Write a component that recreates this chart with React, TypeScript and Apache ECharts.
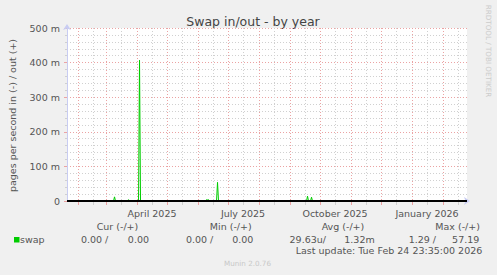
import React, { useEffect, useRef } from 'react';
import * as echarts from 'echarts';

const FONT = '"DejaVu Sans", sans-serif';

// time range of the yearly graph
const rangeStart = '2025-01-20 23:35';
const rangeEnd = '2026-02-24 23:35';

// swap out (+) in milli pages per second
const swapOutTimes = [
  '2025-01-20 23:35',
  '2025-03-08 12:00', '2025-03-09 12:00', '2025-03-10 12:00',
  '2025-03-22 12:00', '2025-03-23 12:00', '2025-03-24 12:00',
  '2025-04-02 12:00', '2025-04-03 12:00', '2025-04-04 12:00',
  '2025-06-08 12:00', '2025-06-09 12:00', '2025-06-10 12:00', '2025-06-11 12:00', '2025-06-12 12:00',
  '2025-06-19 12:00', '2025-06-20 12:00', '2025-06-21 12:00',
  '2025-09-17 12:00', '2025-09-18 12:00', '2025-09-19 12:00',
  '2025-09-21 12:00', '2025-09-22 12:00', '2025-09-23 12:00',
  '2026-02-24 23:35',
];
const swapOutValues = [
  0,
  0, 12, 0,
  0, 4, 0,
  0, 407, 0,
  0, 4, 3, 4, 0,
  0, 54, 0,
  0, 14, 0,
  0, 11, 0,
  0,
];

const monthStarts = [
  '2025-02-01 00:00', '2025-03-01 00:00', '2025-04-01 00:00', '2025-05-01 00:00',
  '2025-06-01 00:00', '2025-07-01 00:00', '2025-08-01 00:00', '2025-09-01 00:00',
  '2025-10-01 00:00', '2025-11-01 00:00', '2025-12-01 00:00', '2026-01-01 00:00',
  '2026-02-01 00:00',
];
const midMonths = [
  '2025-02-15 12:00', '2025-03-15 12:00', '2025-04-15 12:00', '2025-05-15 12:00',
  '2025-06-15 12:00', '2025-07-15 12:00', '2025-08-15 12:00', '2025-09-15 12:00',
  '2025-10-15 12:00', '2025-11-15 12:00', '2025-12-15 12:00', '2026-01-15 12:00',
  '2026-02-15 12:00',
];
const xLabelDates = ['2025-04-16 00:00', '2025-07-16 00:00', '2025-10-16 00:00', '2026-01-16 00:00'];
const xLabelTexts = ['April 2025', 'July 2025', 'October 2025', 'January 2026'];

const yMin = 0;
const yMax = 500;
const yInterval = 100;

const title = 'Swap in/out - by year';
const yAxisName = 'pages per second in (-) / out (+)';
const legendName = 'swap';
const legendHeaders = ['Cur (-/+)', 'Min (-/+)', 'Avg (-/+)', 'Max (-/+)'];
const legendValues = ['0.00 /', '0.00', '0.00 /', '0.00', '29.63u/', '1.32m', '1.29 /', '57.19'];
const lastUpdate = 'Last update: Tue Feb 24 23:35:00 2026';
const footer = 'Munin 2.0.76';
const watermark = 'RRDTOOL / TOBI OETIKER';

const toMs = (s: string) => new Date(s.replace(' ', 'T')).getTime();

const TEXT = '#555555';
const RED = '#EBA3A3';
const GREY = '#D0D0D0';
const GREEN = '#00CC00';

function gridLineRenderer(color: string) {
  return (params: any, api: any) => {
    const cs = params.coordSys;
    const x = Math.round(api.coord([api.value(0), 0])[0]) + 0.5;
    if (x < cs.x || x > cs.x + cs.width) return null;
    const bottom = cs.y + cs.height;
    return {
      type: 'group',
      children: [
        {
          type: 'line',
          shape: { x1: x, y1: cs.y, x2: x, y2: bottom },
          style: { stroke: color, lineWidth: 1, lineDash: [1, 2] },
        },
        {
          type: 'line',
          shape: { x1: x, y1: bottom + 1, x2: x, y2: bottom + 4 },
          style: { stroke: color, lineWidth: 1 },
        },
      ],
    };
  };
}

function labelRenderer(params: any, api: any) {
  const cs = params.coordSys;
  const x = api.coord([api.value(0), 0])[0];
  return {
    type: 'text',
    x,
    y: cs.y + cs.height + 12,
    style: {
      text: xLabelTexts[params.dataIndex],
      fill: TEXT,
      fontSize: 9.5,
      fontFamily: FONT,
      textAlign: 'center',
      textVerticalAlign: 'middle',
    },
  };
}

function txt(text: string, x: number, y: number, align: string, opts: any = {}) {
  return {
    type: 'text',
    x,
    y,
    silent: true,
    rotation: opts.rotation || 0,
    style: {
      text,
      fill: opts.fill || TEXT,
      fontSize: opts.fontSize || 9.5,
      fontFamily: FONT,
      textAlign: align,
      textVerticalAlign: 'middle',
    },
  };
}

export default function App() {
  const ref = useRef<HTMLDivElement>(null);

  useEffect(() => {
    if (!ref.current) return;
    const chart = echarts.init(ref.current, undefined, { renderer: 'svg' });

    const headerRight = [138.3, 251.7, 364.3, 480];
    const valueRight = [108.3, 149, 213.3, 253.3, 326, 374.7, 436, 479.3];

    const graphic: any[] = [
      txt(title, 253, 21, 'center', { fontSize: 12.5, fill: '#444' }),
      txt(yAxisName, 12, 115.5, 'center', { rotation: Math.PI / 2 }),
      txt(watermark, 488, 51, 'center', { rotation: -Math.PI / 2, fill: '#CCCCCC', fontSize: 7.2 }),
      ...legendHeaders.map((h, i) => txt(h, headerRight[i], 226.5, 'right')),
      {
        type: 'rect',
        shape: { x: 14, y: 237, width: 5.5, height: 5.5 },
        style: { fill: GREEN },
        silent: true,
      },
      txt(legendName, 20, 239.5, 'left'),
      ...legendValues.map((v, i) => txt(v, valueRight[i], 239.5, 'right')),
      txt(lastUpdate, 482.3, 250.5, 'right'),
      txt(footer, 247.5, 263, 'center', { fill: '#C8C8C8', fontSize: 7.2 }),
    ];

    chart.setOption({
      animation: false,
      backgroundColor: '#F0F0F0',
      textStyle: { fontFamily: FONT },
      grid: {
        left: 67,
        right: 30,
        top: 28,
        bottom: 74,
        show: true,
        backgroundColor: '#FFFFFF',
        borderWidth: 0,
      },
      xAxis: {
        type: 'time',
        min: toMs(rangeStart),
        max: toMs(rangeEnd),
        axisLine: {
          show: true,
          lineStyle: { color: '#C8CCF2', width: 1 },
          symbol: ['none', 'arrow'],
          symbolSize: [6, 6],
          symbolOffset: [0, 3],
        },
        axisTick: { show: false },
        axisLabel: { show: false },
        splitLine: { show: false },
      },
      yAxis: {
        type: 'value',
        min: yMin,
        max: yMax,
        interval: yInterval,
        axisLine: {
          show: true,
          lineStyle: { color: '#C8CCF2', width: 1 },
          symbol: ['none', 'arrow'],
          symbolSize: [6, 6],
          symbolOffset: [0, 4],
        },
        axisTick: { show: true, length: 3, lineStyle: { color: RED } },
        minorTick: { show: true, splitNumber: 5, length: 2, lineStyle: { color: GREY } },
        axisLabel: {
          color: TEXT,
          fontSize: 9.5,
          fontFamily: FONT,
          margin: 7,
          formatter: (v: number) => (v === 0 ? '0' : `${v} m`),
        },
        splitLine: { show: true, lineStyle: { color: RED, type: [1, 2], width: 1 } },
        minorSplitLine: { show: true, lineStyle: { color: GREY, type: [1, 2], width: 1 } },
      },
      series: [
        {
          type: 'custom',
          name: 'minorGrid',
          renderItem: gridLineRenderer(GREY),
          data: midMonths.map((d) => [toMs(d), 0]),
          clip: false,
          silent: true,
          z: 1,
        },
        {
          type: 'custom',
          name: 'majorGrid',
          renderItem: gridLineRenderer(RED),
          data: monthStarts.map((d) => [toMs(d), 0]),
          clip: false,
          silent: true,
          z: 1,
        },
        {
          type: 'custom',
          name: 'xLabels',
          renderItem: labelRenderer,
          data: xLabelDates.map((d) => [toMs(d), 0]),
          clip: false,
          silent: true,
          z: 1,
        },
        {
          type: 'line',
          name: legendName,
          data: swapOutTimes.map((t, i) => [toMs(t), swapOutValues[i]]),
          symbol: 'none',
          lineStyle: { color: GREEN, width: 1 },
          silent: true,
          z: 3,
          markLine: {
            silent: true,
            symbol: 'none',
            label: { show: false },
            lineStyle: { color: '#000000', width: 2, type: 'solid' },
            data: [{ yAxis: 0 }],
          },
        },
      ],
      graphic,
    });

    return () => chart.dispose();
  }, []);

  return (
    <div
      ref={ref}
      style={{ position: 'fixed', left: 0, top: 0, width: 497, height: 275 }}
    />
  );
}
